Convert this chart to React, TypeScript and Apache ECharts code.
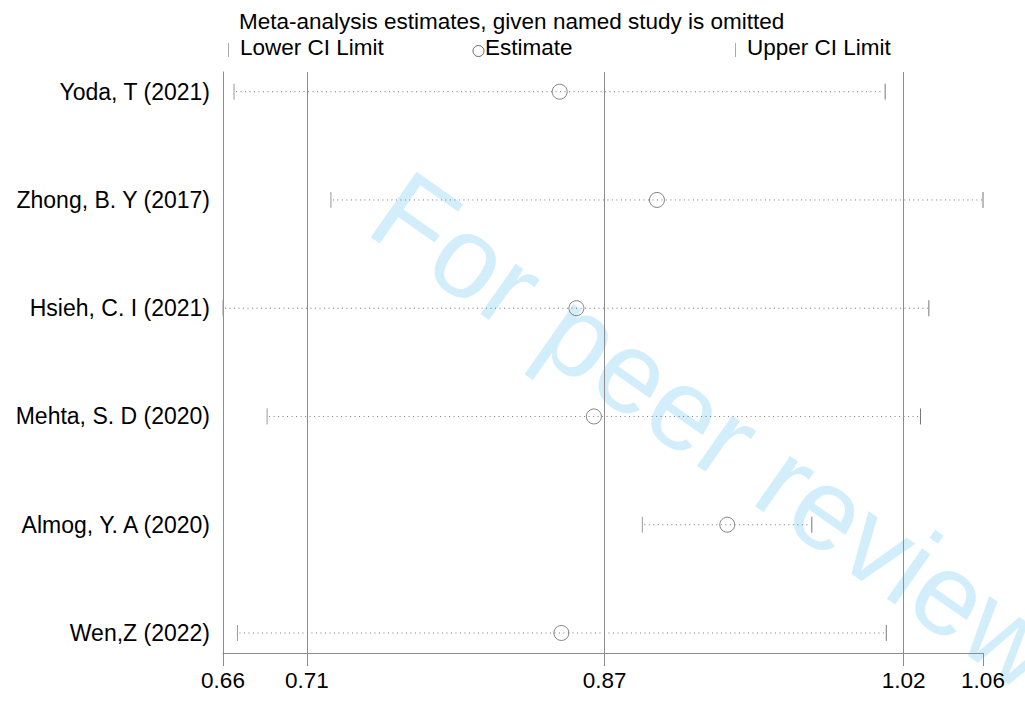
import React, { useEffect, useRef } from "react";
import * as echarts from "echarts";

const studies = [
  "Yoda, T (2021)",
  "Zhong, B. Y (2017)",
  "Hsieh, C. I (2021)",
  "Mehta, S. D (2020)",
  "Almog, Y. A (2020)",
  "Wen,Z (2022)",
];
const lowerCI = [0.6703, 0.7213, 0.6645, 0.6877, 0.8852, 0.6721];
const estimate = [0.8417, 0.8929, 0.8505, 0.8597, 0.9299, 0.8426];
const upperCI = [1.013, 1.0645, 1.036, 1.0316, 0.9744, 1.0136];

const overallLower = 0.7087;
const overallEstimate = 0.8653;
const overallUpper = 1.0227;

const xMin = Math.min(...lowerCI);
const xMax = Math.max(...upperCI);
const tickValues = [xMin, overallLower, overallEstimate, overallUpper, xMax];
const tickLabels = ["0.66", "0.71", "0.87", "1.02", "1.06"];

const FONT = "'Liberation Sans', Arial, Helvetica, sans-serif";
const GREY = "#8c8c8c";

export default function App() {
  const ref = useRef<HTMLDivElement>(null);
  useEffect(() => {
    if (!ref.current) return;
    const chart = echarts.init(ref.current, undefined, { renderer: "svg" });
    const rangeData = studies.map((_, i) => [i, lowerCI[i], upperCI[i]]);
    const estData = studies.map((_, i) => [estimate[i], i]);
    const nearestLabel = (v: number) => {
      let best = 0;
      for (let k = 1; k < tickValues.length; k++) {
        if (Math.abs(tickValues[k] - v) < Math.abs(tickValues[best] - v)) best = k;
      }
      return tickLabels[best];
    };
    chart.setOption({
      animation: false,
      backgroundColor: "#ffffff",
      textStyle: { fontFamily: FONT },
      grid: { left: 223, right: 42, top: 72, bottom: 49, containLabel: false },
      xAxis: {
        type: "value",
        position: "bottom",
        min: xMin,
        max: xMax,
        splitLine: { show: false },
        axisLine: { show: true, onZero: false, lineStyle: { color: GREY, width: 1 } },
        axisTick: {
          show: true,
          length: 13,
          customValues: tickValues,
          lineStyle: { color: GREY, width: 1 },
        },
        axisLabel: {
          customValues: tickValues,
          margin: 16,
          fontSize: 22.5,
          color: "#000",
          fontFamily: FONT,
          formatter: (v: number) => nearestLabel(v),
        },
      },
      yAxis: {
        type: "value",
        inverse: true,
        position: "left",
        min: -0.182,
        max: 5.185,
        splitLine: { show: false },
        axisLine: { show: true, onZero: false, lineStyle: { color: GREY, width: 1 } },
        axisTick: { show: false },
        axisLabel: {
          customValues: studies.map((_, i) => i),
          margin: 13,
          fontSize: 23,
          color: "#000",
          fontFamily: FONT,
          formatter: (v: number) => studies[Math.round(v)] ?? "",
        },
      },
      graphic: [
        {
          type: "text",
          z: -10,
          x: 386,
          y: 199,
          rotation: (-35 * Math.PI) / 180,
          style: {
            text: "For peer review",
            font: `116px ${FONT}`,
            fill: "#d3eefb",
            textAlign: "left",
            textVerticalAlign: "middle",
          },
        },
        {
          type: "text",
          x: 239,
          y: 33,
          style: {
            text: "Meta-analysis estimates, given named study is omitted",
            font: `22.5px ${FONT}`,
            fill: "#000",
            textAlign: "left",
            textVerticalAlign: "bottom",
          },
        },
        {
          type: "line",
          shape: { x1: 228.5, y1: 43, x2: 228.5, y2: 57 },
          style: { stroke: "#aaa", lineWidth: 1 },
        },
        {
          type: "text",
          x: 240,
          y: 59,
          style: {
            text: "Lower CI Limit",
            font: `22.5px ${FONT}`,
            fill: "#000",
            textAlign: "left",
            textVerticalAlign: "bottom",
          },
        },
        {
          type: "circle",
          shape: { cx: 478.5, cy: 51, r: 5.5 },
          style: { fill: "none", stroke: "#666", lineWidth: 1 },
        },
        {
          type: "text",
          x: 485,
          y: 59,
          style: {
            text: "Estimate",
            font: `22.5px ${FONT}`,
            fill: "#000",
            textAlign: "left",
            textVerticalAlign: "bottom",
          },
        },
        {
          type: "line",
          shape: { x1: 735.5, y1: 43, x2: 735.5, y2: 57 },
          style: { stroke: "#aaa", lineWidth: 1 },
        },
        {
          type: "text",
          x: 747,
          y: 59,
          style: {
            text: "Upper CI Limit",
            font: `22.5px ${FONT}`,
            fill: "#000",
            textAlign: "left",
            textVerticalAlign: "bottom",
          },
        },
      ],
      series: [
        {
          type: "custom",
          z: 3,
          data: rangeData,
          encode: { x: [1, 2], y: 0 },
          renderItem: (params: any, api: any) => {
            const i = api.value(0);
            const p1 = api.coord([api.value(1), i]);
            const p2 = api.coord([api.value(2), i]);
            return {
              type: "group",
              children: [
                {
                  type: "line",
                  shape: { x1: p1[0] + 2, y1: p1[1], x2: p2[0] - 1, y2: p2[1] },
                  style: { stroke: "#777", lineWidth: 1, lineDash: [1, 3.5] },
                },
                {
                  type: "line",
                  shape: { x1: p1[0], y1: p1[1] - 8, x2: p1[0], y2: p1[1] + 8 },
                  style: { stroke: "#999", lineWidth: 1 },
                },
                {
                  type: "line",
                  shape: { x1: p2[0], y1: p2[1] - 8, x2: p2[0], y2: p2[1] + 8 },
                  style: { stroke: "#777", lineWidth: 1 },
                },
              ],
            };
          },
        },
        {
          type: "scatter",
          z: 4,
          data: estData,
          symbol: "circle",
          symbolSize: 15,
          itemStyle: { color: "rgba(0,0,0,0)", borderColor: "#666", borderWidth: 1 },
          markLine: {
            silent: true,
            precision: 6,
            symbol: ["none", "none"],
            label: { show: false },
            lineStyle: { type: "solid", color: GREY, width: 1 },
            data: [
              { xAxis: overallLower },
              { xAxis: overallEstimate },
              { xAxis: overallUpper },
            ],
          },
        },
      ],
    });
    return () => chart.dispose();
  }, []);
  return (
    <div
      ref={ref}
      style={{ position: "fixed", left: 0, top: 0, width: 1025, height: 702, background: "#fff" }}
    />
  );
}
